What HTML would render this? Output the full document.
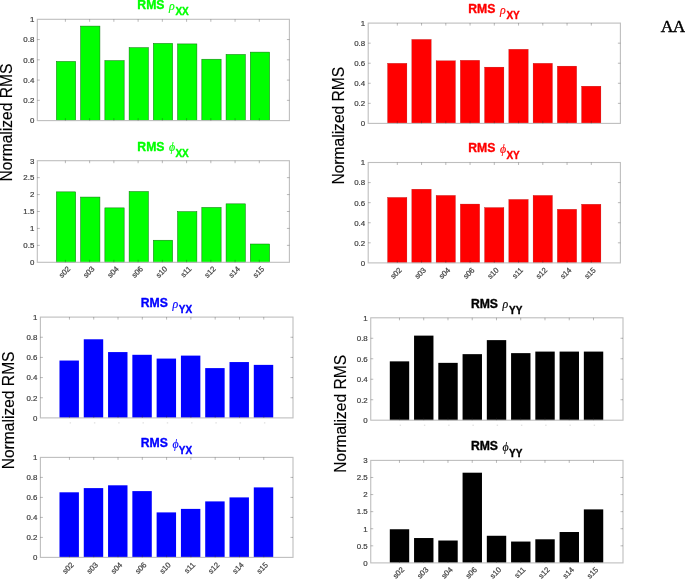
<!DOCTYPE html>
<html lang="en">
<head>
<meta charset="utf-8">
<title>RMS</title>
<style>
html,body{margin:0;padding:0;background:#fff;}
body{width:685px;height:579px;overflow:hidden;position:relative;font-family:"Liberation Sans",sans-serif;}
svg{display:block;position:absolute;left:0;top:0;}
text{font-family:"Liberation Sans",sans-serif;}
.yl{font-size:15.6px;fill:#000;stroke:#000;stroke-width:0.15px;}
.yt{font-size:7.9px;fill:#404040;stroke:#404040;stroke-width:0.2px;}
.xt{font-size:7.7px;fill:#404040;stroke:#404040;stroke-width:0.2px;}
.ti{font-size:12.2px;font-weight:bold;stroke-width:0.35px;stroke-linejoin:round;}
.sy{font-family:"Liberation Serif","DejaVu Serif",serif;font-style:italic;font-weight:normal;stroke-width:0.15px;font-size:11.9px;}
.sb{font-size:10.0px;}
.aa{font-family:"Liberation Serif",serif;font-size:17.6px;letter-spacing:-0.7px;fill:#000;stroke:#000;stroke-width:0.45px;}
</style>
</head>
<body>
<svg role="img" aria-label="Normalized RMS bar charts" width="685" height="579" viewBox="0 0 685 579">
<rect width="685" height="579" fill="#fff"/>
<g class="chart">
<text class="yl" transform="translate(12.4,122.5) rotate(-90)" text-anchor="middle">Normalized RMS</text>
<g>
<rect x="56.39" y="61.44" width="19.29" height="59.16" fill="#00ff00" stroke="#0b6e0b" stroke-width="0.5"/>
<rect x="80.63" y="26.09" width="19.29" height="94.51" fill="#00ff00" stroke="#0b6e0b" stroke-width="0.5"/>
<rect x="104.87" y="60.63" width="19.29" height="59.97" fill="#00ff00" stroke="#0b6e0b" stroke-width="0.5"/>
<rect x="129.11" y="47.66" width="19.29" height="72.94" fill="#00ff00" stroke="#0b6e0b" stroke-width="0.5"/>
<rect x="153.35" y="43.41" width="19.29" height="77.19" fill="#00ff00" stroke="#0b6e0b" stroke-width="0.5"/>
<rect x="177.59" y="43.92" width="19.29" height="76.68" fill="#00ff00" stroke="#0b6e0b" stroke-width="0.5"/>
<rect x="201.83" y="59.21" width="19.29" height="61.39" fill="#00ff00" stroke="#0b6e0b" stroke-width="0.5"/>
<rect x="226.07" y="54.45" width="19.29" height="66.15" fill="#00ff00" stroke="#0b6e0b" stroke-width="0.5"/>
<rect x="250.32" y="52.12" width="19.29" height="68.48" fill="#00ff00" stroke="#0b6e0b" stroke-width="0.5"/>
<rect x="37.3" y="19.3" width="252.1" height="101.3" fill="none" stroke="#bebebe" stroke-width="1.1"/>
<path d="M37.3 100.34h2.5M289.4 100.34h-2.5M37.3 80.08h2.5M289.4 80.08h-2.5M37.3 59.82h2.5M289.4 59.82h-2.5M37.3 39.56h2.5M289.4 39.56h-2.5M65.39 120.6v-2.5M65.39 19.3v2.5M89.63 120.6v-2.5M89.63 19.3v2.5M113.87 120.6v-2.5M113.87 19.3v2.5M138.11 120.6v-2.5M138.11 19.3v2.5M162.35 120.6v-2.5M162.35 19.3v2.5M186.59 120.6v-2.5M186.59 19.3v2.5M210.83 120.6v-2.5M210.83 19.3v2.5M235.07 120.6v-2.5M235.07 19.3v2.5M259.31 120.6v-2.5M259.31 19.3v2.5" stroke="#262626" stroke-opacity="0.4" stroke-width="0.8" fill="none"/>
<text class="yt" x="34.3" y="123.44" text-anchor="end">0</text>
<text class="yt" x="34.3" y="103.18" text-anchor="end">0.2</text>
<text class="yt" x="34.3" y="82.92" text-anchor="end">0.4</text>
<text class="yt" x="34.3" y="62.66" text-anchor="end">0.6</text>
<text class="yt" x="34.3" y="42.4" text-anchor="end">0.8</text>
<text class="yt" x="34.3" y="22.14" text-anchor="end">1</text>
<g class="ti" fill="#00ff00" stroke="#00ff00"><text x="137.35" y="9.1">RMS</text><text class="sy" x="169.05" y="9.9">ρ</text><text class="sb" x="175.45" y="15.4">XX</text></g>
</g>
<g>
<rect x="56.39" y="191.86" width="19.29" height="70.44" fill="#00ff00" stroke="#0b6e0b" stroke-width="0.5"/>
<rect x="80.63" y="197.07" width="19.29" height="65.23" fill="#00ff00" stroke="#0b6e0b" stroke-width="0.5"/>
<rect x="104.87" y="207.88" width="19.29" height="54.42" fill="#00ff00" stroke="#0b6e0b" stroke-width="0.5"/>
<rect x="129.11" y="191.52" width="19.29" height="70.78" fill="#00ff00" stroke="#0b6e0b" stroke-width="0.5"/>
<rect x="153.35" y="240.22" width="19.29" height="22.08" fill="#00ff00" stroke="#0b6e0b" stroke-width="0.5"/>
<rect x="177.59" y="211.64" width="19.29" height="50.66" fill="#00ff00" stroke="#0b6e0b" stroke-width="0.5"/>
<rect x="201.83" y="207.44" width="19.29" height="54.86" fill="#00ff00" stroke="#0b6e0b" stroke-width="0.5"/>
<rect x="226.07" y="203.85" width="19.29" height="58.45" fill="#00ff00" stroke="#0b6e0b" stroke-width="0.5"/>
<rect x="250.32" y="244.01" width="19.29" height="18.29" fill="#00ff00" stroke="#0b6e0b" stroke-width="0.5"/>
<rect x="37.3" y="160.7" width="252.1" height="101.6" fill="none" stroke="#bebebe" stroke-width="1.1"/>
<path d="M37.3 245.37h2.5M289.4 245.37h-2.5M37.3 228.43h2.5M289.4 228.43h-2.5M37.3 211.5h2.5M289.4 211.5h-2.5M37.3 194.57h2.5M289.4 194.57h-2.5M37.3 177.63h2.5M289.4 177.63h-2.5M65.39 262.3v-2.5M65.39 160.7v2.5M89.63 262.3v-2.5M89.63 160.7v2.5M113.87 262.3v-2.5M113.87 160.7v2.5M138.11 262.3v-2.5M138.11 160.7v2.5M162.35 262.3v-2.5M162.35 160.7v2.5M186.59 262.3v-2.5M186.59 160.7v2.5M210.83 262.3v-2.5M210.83 160.7v2.5M235.07 262.3v-2.5M235.07 160.7v2.5M259.31 262.3v-2.5M259.31 160.7v2.5" stroke="#262626" stroke-opacity="0.4" stroke-width="0.8" fill="none"/>
<text class="yt" x="34.3" y="265.14" text-anchor="end">0</text>
<text class="yt" x="34.3" y="248.21" text-anchor="end">0.5</text>
<text class="yt" x="34.3" y="231.28" text-anchor="end">1</text>
<text class="yt" x="34.3" y="214.34" text-anchor="end">1.5</text>
<text class="yt" x="34.3" y="197.41" text-anchor="end">2</text>
<text class="yt" x="34.3" y="180.48" text-anchor="end">2.5</text>
<text class="yt" x="34.3" y="163.54" text-anchor="end">3</text>
<text class="xt" transform="translate(70.79,269.4) rotate(-45)" text-anchor="end">s02</text>
<text class="xt" transform="translate(95.03,269.4) rotate(-45)" text-anchor="end">s03</text>
<text class="xt" transform="translate(119.27,269.4) rotate(-45)" text-anchor="end">s04</text>
<text class="xt" transform="translate(143.51,269.4) rotate(-45)" text-anchor="end">s06</text>
<text class="xt" transform="translate(167.75,269.4) rotate(-45)" text-anchor="end">s10</text>
<text class="xt" transform="translate(191.99,269.4) rotate(-45)" text-anchor="end">s11</text>
<text class="xt" transform="translate(216.23,269.4) rotate(-45)" text-anchor="end">s12</text>
<text class="xt" transform="translate(240.47,269.4) rotate(-45)" text-anchor="end">s14</text>
<text class="xt" transform="translate(264.71,269.4) rotate(-45)" text-anchor="end">s15</text>
<g class="ti" fill="#00ff00" stroke="#00ff00"><text x="137.35" y="150.5">RMS</text><text class="sy" x="169.05" y="151.3">ϕ</text><text class="sb" x="175.45" y="156.8">XX</text></g>
</g>
</g>
<g class="chart">
<text class="yl" transform="translate(343.5,125.7) rotate(-90)" text-anchor="middle">Normalized RMS</text>
<g>
<rect x="387.6" y="63.32" width="19.3" height="60.08" fill="#ff0000" stroke="#b00000" stroke-width="0.3"/>
<rect x="411.85" y="39.45" width="19.3" height="83.95" fill="#ff0000" stroke="#b00000" stroke-width="0.3"/>
<rect x="436.1" y="60.81" width="19.3" height="62.59" fill="#ff0000" stroke="#b00000" stroke-width="0.3"/>
<rect x="460.35" y="60.31" width="19.3" height="63.09" fill="#ff0000" stroke="#b00000" stroke-width="0.3"/>
<rect x="484.6" y="67.13" width="19.3" height="56.27" fill="#ff0000" stroke="#b00000" stroke-width="0.3"/>
<rect x="508.85" y="49.28" width="19.3" height="74.12" fill="#ff0000" stroke="#b00000" stroke-width="0.3"/>
<rect x="533.1" y="63.32" width="19.3" height="60.08" fill="#ff0000" stroke="#b00000" stroke-width="0.3"/>
<rect x="557.35" y="66.13" width="19.3" height="57.27" fill="#ff0000" stroke="#b00000" stroke-width="0.3"/>
<rect x="581.6" y="86.19" width="19.3" height="37.21" fill="#ff0000" stroke="#b00000" stroke-width="0.3"/>
<rect x="368.2" y="23.1" width="252.2" height="100.3" fill="none" stroke="#bebebe" stroke-width="1.1"/>
<path d="M368.2 103.34h2.5M620.4 103.34h-2.5M368.2 83.28h2.5M620.4 83.28h-2.5M368.2 63.22h2.5M620.4 63.22h-2.5M368.2 43.16h2.5M620.4 43.16h-2.5M397.3 123.4v-2.5M397.3 23.1v2.5M421.55 123.4v-2.5M421.55 23.1v2.5M445.8 123.4v-2.5M445.8 23.1v2.5M470.05 123.4v-2.5M470.05 23.1v2.5M494.3 123.4v-2.5M494.3 23.1v2.5M518.55 123.4v-2.5M518.55 23.1v2.5M542.8 123.4v-2.5M542.8 23.1v2.5M567.05 123.4v-2.5M567.05 23.1v2.5M591.3 123.4v-2.5M591.3 23.1v2.5" stroke="#262626" stroke-opacity="0.4" stroke-width="0.8" fill="none"/>
<text class="yt" x="365.2" y="126.24" text-anchor="end">0</text>
<text class="yt" x="365.2" y="106.18" text-anchor="end">0.2</text>
<text class="yt" x="365.2" y="86.12" text-anchor="end">0.4</text>
<text class="yt" x="365.2" y="66.06" text-anchor="end">0.6</text>
<text class="yt" x="365.2" y="46" text-anchor="end">0.8</text>
<text class="yt" x="365.2" y="25.94" text-anchor="end">1</text>
<g class="ti" fill="#ff0000" stroke="#ff0000"><text x="468.3" y="12.9">RMS</text><text class="sy" x="500" y="13.7">ρ</text><text class="sb" x="506.4" y="19.2">XY</text></g>
</g>
<g>
<rect x="387.6" y="197.44" width="19.3" height="65.46" fill="#ff0000" stroke="#b00000" stroke-width="0.3"/>
<rect x="411.85" y="189.21" width="19.3" height="73.69" fill="#ff0000" stroke="#b00000" stroke-width="0.3"/>
<rect x="436.1" y="195.43" width="19.3" height="67.47" fill="#ff0000" stroke="#b00000" stroke-width="0.3"/>
<rect x="460.35" y="204.07" width="19.3" height="58.83" fill="#ff0000" stroke="#b00000" stroke-width="0.3"/>
<rect x="484.6" y="207.58" width="19.3" height="55.32" fill="#ff0000" stroke="#b00000" stroke-width="0.3"/>
<rect x="508.85" y="199.45" width="19.3" height="63.45" fill="#ff0000" stroke="#b00000" stroke-width="0.3"/>
<rect x="533.1" y="195.43" width="19.3" height="67.47" fill="#ff0000" stroke="#b00000" stroke-width="0.3"/>
<rect x="557.35" y="209.29" width="19.3" height="53.61" fill="#ff0000" stroke="#b00000" stroke-width="0.3"/>
<rect x="581.6" y="204.27" width="19.3" height="58.63" fill="#ff0000" stroke="#b00000" stroke-width="0.3"/>
<rect x="368.2" y="162.5" width="252.2" height="100.4" fill="none" stroke="#bebebe" stroke-width="1.1"/>
<path d="M368.2 242.82h2.5M620.4 242.82h-2.5M368.2 222.74h2.5M620.4 222.74h-2.5M368.2 202.66h2.5M620.4 202.66h-2.5M368.2 182.58h2.5M620.4 182.58h-2.5M397.3 262.9v-2.5M397.3 162.5v2.5M421.55 262.9v-2.5M421.55 162.5v2.5M445.8 262.9v-2.5M445.8 162.5v2.5M470.05 262.9v-2.5M470.05 162.5v2.5M494.3 262.9v-2.5M494.3 162.5v2.5M518.55 262.9v-2.5M518.55 162.5v2.5M542.8 262.9v-2.5M542.8 162.5v2.5M567.05 262.9v-2.5M567.05 162.5v2.5M591.3 262.9v-2.5M591.3 162.5v2.5" stroke="#262626" stroke-opacity="0.4" stroke-width="0.8" fill="none"/>
<text class="yt" x="365.2" y="265.74" text-anchor="end">0</text>
<text class="yt" x="365.2" y="245.66" text-anchor="end">0.2</text>
<text class="yt" x="365.2" y="225.58" text-anchor="end">0.4</text>
<text class="yt" x="365.2" y="205.5" text-anchor="end">0.6</text>
<text class="yt" x="365.2" y="185.42" text-anchor="end">0.8</text>
<text class="yt" x="365.2" y="165.34" text-anchor="end">1</text>
<text class="xt" transform="translate(402.3,270.6) rotate(-45)" text-anchor="end">s02</text>
<text class="xt" transform="translate(426.55,270.6) rotate(-45)" text-anchor="end">s03</text>
<text class="xt" transform="translate(450.8,270.6) rotate(-45)" text-anchor="end">s04</text>
<text class="xt" transform="translate(475.05,270.6) rotate(-45)" text-anchor="end">s06</text>
<text class="xt" transform="translate(499.3,270.6) rotate(-45)" text-anchor="end">s10</text>
<text class="xt" transform="translate(523.55,270.6) rotate(-45)" text-anchor="end">s11</text>
<text class="xt" transform="translate(547.8,270.6) rotate(-45)" text-anchor="end">s12</text>
<text class="xt" transform="translate(572.05,270.6) rotate(-45)" text-anchor="end">s14</text>
<text class="xt" transform="translate(596.3,270.6) rotate(-45)" text-anchor="end">s15</text>
<g class="ti" fill="#ff0000" stroke="#ff0000"><text x="468.3" y="152.3">RMS</text><text class="sy" x="500" y="153.1">ϕ</text><text class="sb" x="506.4" y="158.6">XY</text></g>
</g>
</g>
<g class="chart">
<text class="yl" transform="translate(14.2,410.4) rotate(-90)" text-anchor="middle">Normalized RMS</text>
<g>
<rect x="59.48" y="360.54" width="19.43" height="57.36" fill="#0000ff"/>
<rect x="83.77" y="339.28" width="19.43" height="78.62" fill="#0000ff"/>
<rect x="108.06" y="352.08" width="19.43" height="65.82" fill="#0000ff"/>
<rect x="132.35" y="354.8" width="19.43" height="63.1" fill="#0000ff"/>
<rect x="156.63" y="358.58" width="19.43" height="59.32" fill="#0000ff"/>
<rect x="180.92" y="355.61" width="19.43" height="62.29" fill="#0000ff"/>
<rect x="205.21" y="368.1" width="19.43" height="49.8" fill="#0000ff"/>
<rect x="229.5" y="362.06" width="19.43" height="55.84" fill="#0000ff"/>
<rect x="253.79" y="364.88" width="19.43" height="53.02" fill="#0000ff"/>
<rect x="40.4" y="317.1" width="252.6" height="100.8" fill="none" stroke="#bebebe" stroke-width="1.1"/>
<path d="M40.4 397.74h2.5M293 397.74h-2.5M40.4 377.58h2.5M293 377.58h-2.5M40.4 357.42h2.5M293 357.42h-2.5M40.4 337.26h2.5M293 337.26h-2.5M69.45 417.9v-2.5M69.45 317.1v2.5M93.73 417.9v-2.5M93.73 317.1v2.5M118.02 417.9v-2.5M118.02 317.1v2.5M142.31 417.9v-2.5M142.31 317.1v2.5M166.6 417.9v-2.5M166.6 317.1v2.5M190.89 417.9v-2.5M190.89 317.1v2.5M215.18 417.9v-2.5M215.18 317.1v2.5M239.47 417.9v-2.5M239.47 317.1v2.5M263.75 417.9v-2.5M263.75 317.1v2.5" stroke="#262626" stroke-opacity="0.4" stroke-width="0.8" fill="none"/>
<path d="M69.65 422.9h1.4M93.93 422.9h1.4M118.22 422.9h1.4M142.51 422.9h1.4M166.8 422.9h1.4M191.09 422.9h1.4M215.38 422.9h1.4M239.67 422.9h1.4M263.95 422.9h1.4" stroke="#000" stroke-opacity="0.18" stroke-width="0.9" fill="none"/>
<text class="yt" x="37.4" y="420.74" text-anchor="end">0</text>
<text class="yt" x="37.4" y="400.58" text-anchor="end">0.2</text>
<text class="yt" x="37.4" y="380.42" text-anchor="end">0.4</text>
<text class="yt" x="37.4" y="360.26" text-anchor="end">0.6</text>
<text class="yt" x="37.4" y="340.1" text-anchor="end">0.8</text>
<text class="yt" x="37.4" y="319.94" text-anchor="end">1</text>
<g class="ti" fill="#0000ff" stroke="#0000ff"><text x="140.7" y="306.9">RMS</text><text class="sy" x="172.4" y="307.7">ρ</text><text class="sb" x="178.8" y="313.2">YX</text></g>
</g>
<g>
<rect x="59.48" y="492.3" width="19.43" height="65.1" fill="#0000ff"/>
<rect x="83.77" y="488.1" width="19.43" height="69.3" fill="#0000ff"/>
<rect x="108.06" y="485.3" width="19.43" height="72.1" fill="#0000ff"/>
<rect x="132.35" y="491.1" width="19.43" height="66.3" fill="#0000ff"/>
<rect x="156.63" y="512.4" width="19.43" height="45" fill="#0000ff"/>
<rect x="180.92" y="508.9" width="19.43" height="48.5" fill="#0000ff"/>
<rect x="205.21" y="501.4" width="19.43" height="56" fill="#0000ff"/>
<rect x="229.5" y="497.4" width="19.43" height="60" fill="#0000ff"/>
<rect x="253.79" y="487.4" width="19.43" height="70" fill="#0000ff"/>
<rect x="40.4" y="457.4" width="252.6" height="100" fill="none" stroke="#bebebe" stroke-width="1.1"/>
<path d="M40.4 537.4h2.5M293 537.4h-2.5M40.4 517.4h2.5M293 517.4h-2.5M40.4 497.4h2.5M293 497.4h-2.5M40.4 477.4h2.5M293 477.4h-2.5M69.45 557.4v-2.5M69.45 457.4v2.5M93.73 557.4v-2.5M93.73 457.4v2.5M118.02 557.4v-2.5M118.02 457.4v2.5M142.31 557.4v-2.5M142.31 457.4v2.5M166.6 557.4v-2.5M166.6 457.4v2.5M190.89 557.4v-2.5M190.89 457.4v2.5M215.18 557.4v-2.5M215.18 457.4v2.5M239.47 557.4v-2.5M239.47 457.4v2.5M263.75 557.4v-2.5M263.75 457.4v2.5" stroke="#262626" stroke-opacity="0.4" stroke-width="0.8" fill="none"/>
<text class="yt" x="37.4" y="560.24" text-anchor="end">0</text>
<text class="yt" x="37.4" y="540.24" text-anchor="end">0.2</text>
<text class="yt" x="37.4" y="520.24" text-anchor="end">0.4</text>
<text class="yt" x="37.4" y="500.24" text-anchor="end">0.6</text>
<text class="yt" x="37.4" y="480.24" text-anchor="end">0.8</text>
<text class="yt" x="37.4" y="460.24" text-anchor="end">1</text>
<text class="xt" transform="translate(74.25,565.4) rotate(-45)" text-anchor="end">s02</text>
<text class="xt" transform="translate(98.53,565.4) rotate(-45)" text-anchor="end">s03</text>
<text class="xt" transform="translate(122.82,565.4) rotate(-45)" text-anchor="end">s04</text>
<text class="xt" transform="translate(147.11,565.4) rotate(-45)" text-anchor="end">s06</text>
<text class="xt" transform="translate(171.4,565.4) rotate(-45)" text-anchor="end">s10</text>
<text class="xt" transform="translate(195.69,565.4) rotate(-45)" text-anchor="end">s11</text>
<text class="xt" transform="translate(219.98,565.4) rotate(-45)" text-anchor="end">s12</text>
<text class="xt" transform="translate(244.27,565.4) rotate(-45)" text-anchor="end">s14</text>
<text class="xt" transform="translate(268.55,565.4) rotate(-45)" text-anchor="end">s15</text>
<g class="ti" fill="#0000ff" stroke="#0000ff"><text x="140.7" y="447.2">RMS</text><text class="sy" x="172.4" y="448">ϕ</text><text class="sb" x="178.8" y="453.5">YX</text></g>
</g>
</g>
<g class="chart">
<text class="yl" transform="translate(346.2,413.8) rotate(-90)" text-anchor="middle">Normalized RMS</text>
<g>
<rect x="389.8" y="361.36" width="19.4" height="58.84" fill="#000000"/>
<rect x="414.06" y="335.62" width="19.4" height="84.58" fill="#000000"/>
<rect x="438.31" y="362.86" width="19.4" height="57.34" fill="#000000"/>
<rect x="462.57" y="354.15" width="19.4" height="66.05" fill="#000000"/>
<rect x="486.82" y="340.12" width="19.4" height="80.08" fill="#000000"/>
<rect x="511.08" y="353.13" width="19.4" height="67.07" fill="#000000"/>
<rect x="535.33" y="351.59" width="19.4" height="68.61" fill="#000000"/>
<rect x="559.59" y="351.59" width="19.4" height="68.61" fill="#000000"/>
<rect x="583.84" y="351.59" width="19.4" height="68.61" fill="#000000"/>
<rect x="370.75" y="317.8" width="252.25" height="102.4" fill="none" stroke="#bebebe" stroke-width="1.1"/>
<path d="M370.75 399.72h2.5M623 399.72h-2.5M370.75 379.24h2.5M623 379.24h-2.5M370.75 358.76h2.5M623 358.76h-2.5M370.75 338.28h2.5M623 338.28h-2.5M399.46 420.2v-2.5M399.46 317.8v2.5M423.71 420.2v-2.5M423.71 317.8v2.5M447.97 420.2v-2.5M447.97 317.8v2.5M472.22 420.2v-2.5M472.22 317.8v2.5M496.48 420.2v-2.5M496.48 317.8v2.5M520.73 420.2v-2.5M520.73 317.8v2.5M544.98 420.2v-2.5M544.98 317.8v2.5M569.24 420.2v-2.5M569.24 317.8v2.5M593.49 420.2v-2.5M593.49 317.8v2.5" stroke="#262626" stroke-opacity="0.4" stroke-width="0.8" fill="none"/>
<path d="M399.66 425.2h1.4M423.91 425.2h1.4M448.17 425.2h1.4M472.42 425.2h1.4M496.68 425.2h1.4M520.93 425.2h1.4M545.18 425.2h1.4M569.44 425.2h1.4M593.69 425.2h1.4" stroke="#000" stroke-opacity="0.18" stroke-width="0.9" fill="none"/>
<text class="yt" x="367.75" y="423.04" text-anchor="end">0</text>
<text class="yt" x="367.75" y="402.56" text-anchor="end">0.2</text>
<text class="yt" x="367.75" y="382.08" text-anchor="end">0.4</text>
<text class="yt" x="367.75" y="361.6" text-anchor="end">0.6</text>
<text class="yt" x="367.75" y="341.12" text-anchor="end">0.8</text>
<text class="yt" x="367.75" y="320.64" text-anchor="end">1</text>
<g class="ti" fill="#000000" stroke="#000000"><text x="470.88" y="307.6">RMS</text><text class="sy" x="502.57" y="308.4">ρ</text><text class="sb" x="508.98" y="313.9">YY</text></g>
</g>
<g>
<rect x="389.8" y="529.25" width="19.4" height="33.65" fill="#000000"/>
<rect x="414.06" y="538.03" width="19.4" height="24.87" fill="#000000"/>
<rect x="438.31" y="540.52" width="19.4" height="22.38" fill="#000000"/>
<rect x="462.57" y="472.7" width="19.4" height="90.2" fill="#000000"/>
<rect x="486.82" y="535.77" width="19.4" height="27.13" fill="#000000"/>
<rect x="511.08" y="541.55" width="19.4" height="21.35" fill="#000000"/>
<rect x="535.33" y="539.29" width="19.4" height="23.61" fill="#000000"/>
<rect x="559.59" y="532.01" width="19.4" height="30.89" fill="#000000"/>
<rect x="583.84" y="509.39" width="19.4" height="53.51" fill="#000000"/>
<rect x="370.75" y="460.4" width="252.25" height="102.5" fill="none" stroke="#bebebe" stroke-width="1.1"/>
<path d="M370.75 545.82h2.5M623 545.82h-2.5M370.75 528.73h2.5M623 528.73h-2.5M370.75 511.65h2.5M623 511.65h-2.5M370.75 494.57h2.5M623 494.57h-2.5M370.75 477.48h2.5M623 477.48h-2.5M399.46 562.9v-2.5M399.46 460.4v2.5M423.71 562.9v-2.5M423.71 460.4v2.5M447.97 562.9v-2.5M447.97 460.4v2.5M472.22 562.9v-2.5M472.22 460.4v2.5M496.48 562.9v-2.5M496.48 460.4v2.5M520.73 562.9v-2.5M520.73 460.4v2.5M544.98 562.9v-2.5M544.98 460.4v2.5M569.24 562.9v-2.5M569.24 460.4v2.5M593.49 562.9v-2.5M593.49 460.4v2.5" stroke="#262626" stroke-opacity="0.4" stroke-width="0.8" fill="none"/>
<text class="yt" x="367.75" y="565.74" text-anchor="end">0</text>
<text class="yt" x="367.75" y="548.66" text-anchor="end">0.5</text>
<text class="yt" x="367.75" y="531.58" text-anchor="end">1</text>
<text class="yt" x="367.75" y="514.49" text-anchor="end">1.5</text>
<text class="yt" x="367.75" y="497.41" text-anchor="end">2</text>
<text class="yt" x="367.75" y="480.33" text-anchor="end">2.5</text>
<text class="yt" x="367.75" y="463.24" text-anchor="end">3</text>
<text class="xt" transform="translate(404.66,570.2) rotate(-45)" text-anchor="end">s02</text>
<text class="xt" transform="translate(428.91,570.2) rotate(-45)" text-anchor="end">s03</text>
<text class="xt" transform="translate(453.17,570.2) rotate(-45)" text-anchor="end">s04</text>
<text class="xt" transform="translate(477.42,570.2) rotate(-45)" text-anchor="end">s06</text>
<text class="xt" transform="translate(501.68,570.2) rotate(-45)" text-anchor="end">s10</text>
<text class="xt" transform="translate(525.93,570.2) rotate(-45)" text-anchor="end">s11</text>
<text class="xt" transform="translate(550.18,570.2) rotate(-45)" text-anchor="end">s12</text>
<text class="xt" transform="translate(574.44,570.2) rotate(-45)" text-anchor="end">s14</text>
<text class="xt" transform="translate(598.69,570.2) rotate(-45)" text-anchor="end">s15</text>
<g class="ti" fill="#000000" stroke="#000000"><text x="470.88" y="450.2">RMS</text><text class="sy" x="502.57" y="451">ϕ</text><text class="sb" x="508.98" y="456.5">YY</text></g>
</g>
</g>
<text class="aa" x="660.8" y="31.7">AA</text>
</svg>
</body>
</html>
